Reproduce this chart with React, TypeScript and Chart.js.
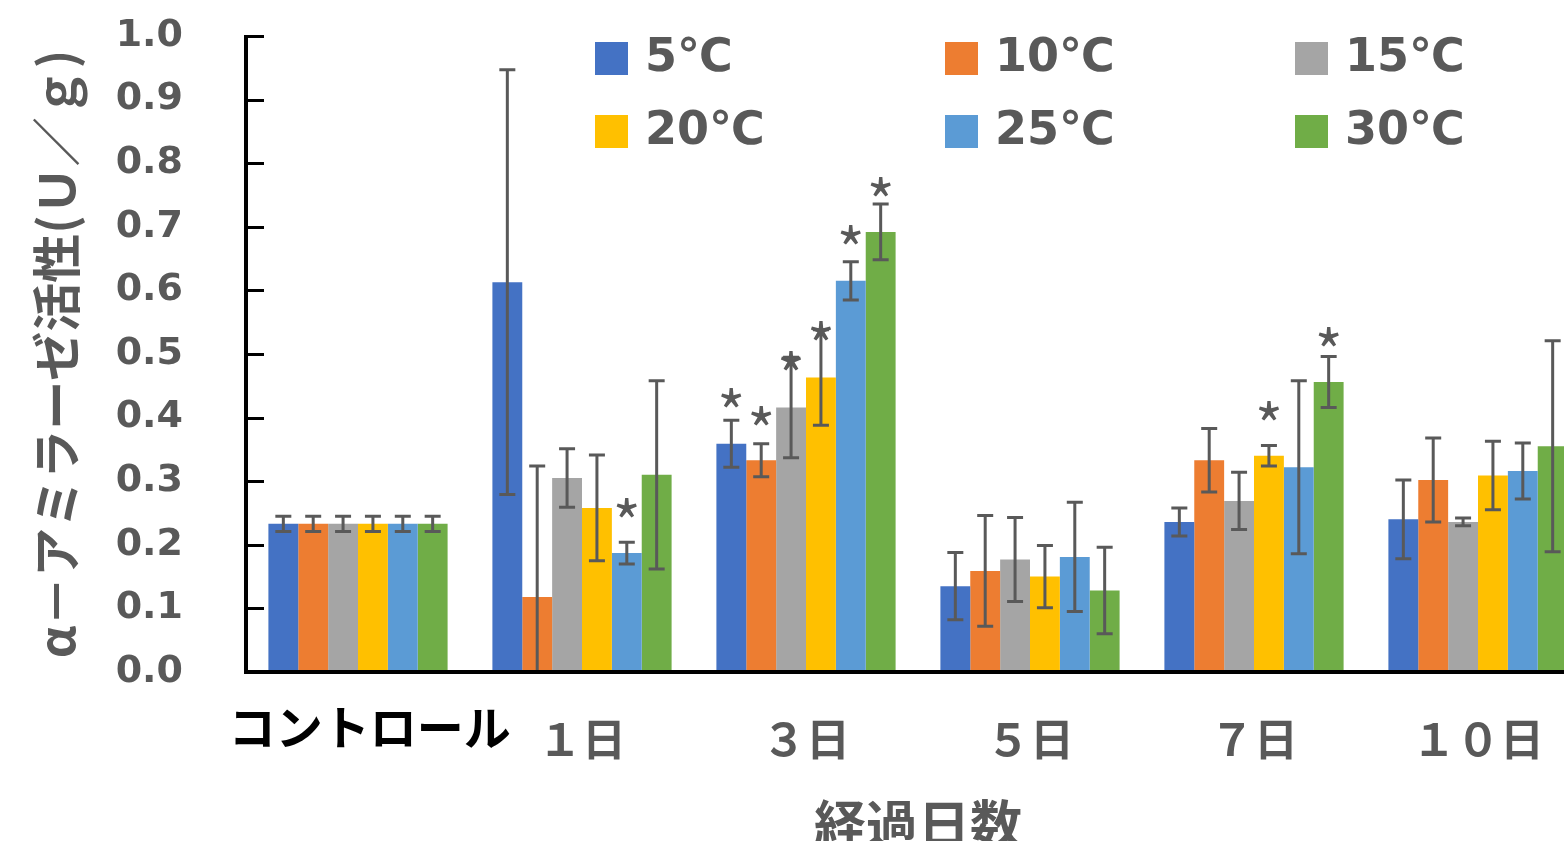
import React, { useEffect, useRef } from "react";
import { Chart, registerables } from "chart.js";

Chart.register(...registerables);

const categories = ["コントロール", "１日", "３日", "５日", "７日", "１０日"];
const seriesNames = ["5℃", "10℃", "15℃", "20℃", "25℃", "30℃"];
const seriesColors = ["#4472C4", "#ED7D31", "#A5A5A5", "#FFC000", "#5B9BD5", "#70AD47"];

const v5 = [0.233, 0.613, 0.359, 0.135, 0.236, 0.240];
const v10 = [0.233, 0.118, 0.333, 0.159, 0.333, 0.302];
const v15 = [0.233, 0.305, 0.416, 0.177, 0.269, 0.236];
const v20 = [0.233, 0.258, 0.463, 0.150, 0.340, 0.309];
const v25 = [0.233, 0.187, 0.615, 0.181, 0.322, 0.316];
const v30 = [0.233, 0.310, 0.692, 0.128, 0.456, 0.355];

const e5 = [0.012, 0.334, 0.037, 0.053, 0.022, 0.062];
const e10 = [0.012, 0.206, 0.026, 0.087, 0.050, 0.066];
const e15 = [0.012, 0.046, 0.079, 0.066, 0.045, 0.006];
const e20 = [0.012, 0.083, 0.075, 0.049, 0.016, 0.054];
const e25 = [0.012, 0.017, 0.030, 0.086, 0.136, 0.044];
const e30 = [0.012, 0.148, 0.044, 0.068, 0.040, 0.166];

// significance marks: value level at which "*" is shown (null = none)
const s5 = [null, null, 0.431, null, null, null];
const s10 = [null, null, 0.403, null, null, null];
const s15 = [null, null, 0.489, null, null, null];
const s20 = [null, null, 0.536, null, 0.410, null];
const s25 = [null, 0.258, 0.687, null, null, null];
const s30 = [null, null, 0.763, null, 0.527, null];

const values = [v5, v10, v15, v20, v25, v30];
const errors = [e5, e10, e15, e20, e25, e30];
const stars = [s5, s10, s15, s20, s25, s30];

const yTicks = [0, 0.1, 0.2, 0.3, 0.4, 0.5, 0.6, 0.7, 0.8, 0.9, 1.0];

const GRAY = "#595959";
const JP = "'Noto Sans CJK JP', 'Noto Sans', sans-serif";
const LAT = "'DejaVu Sans', 'Noto Sans CJK JP', sans-serif";

const decorPlugin = {
  id: "decor",
  afterDatasetsDraw(chart: any) {
    const ctx = chart.ctx;
    const y = chart.scales.y;
    const area = chart.chartArea;
    ctx.save();
    // error bars
    ctx.strokeStyle = GRAY;
    ctx.lineWidth = 3;
    chart.data.datasets.forEach((ds: any, i: number) => {
      const meta = chart.getDatasetMeta(i);
      meta.data.forEach((bar: any, j: number) => {
        const v = values[i][j];
        const e = errors[i][j];
        const x = bar.x;
        let yt = y.getPixelForValue(v + e);
        let yb = y.getPixelForValue(v - e);
        const capT = yt >= area.top && yt <= area.bottom;
        const capB = yb >= area.top && yb <= area.bottom;
        yt = Math.max(area.top, Math.min(area.bottom, yt));
        yb = Math.max(area.top, Math.min(area.bottom, yb));
        ctx.beginPath();
        ctx.moveTo(x, yt);
        ctx.lineTo(x, yb);
        if (capT) {
          ctx.moveTo(x - 8, yt);
          ctx.lineTo(x + 8, yt);
        }
        if (capB) {
          ctx.moveTo(x - 8, yb);
          ctx.lineTo(x + 8, yb);
        }
        ctx.stroke();
      });
    });
    // significance stars
    ctx.fillStyle = GRAY;
    ctx.font = "60px " + JP;
    ctx.textAlign = "center";
    ctx.textBaseline = "alphabetic";
    const m = ctx.measureText("*");
    const shift = (m.actualBoundingBoxAscent - m.actualBoundingBoxDescent) / 2;
    chart.data.datasets.forEach((ds: any, i: number) => {
      const meta = chart.getDatasetMeta(i);
      meta.data.forEach((bar: any, j: number) => {
        const s = stars[i][j];
        if (s === null || s === undefined) return;
        ctx.fillText("*", bar.x, y.getPixelForValue(s) + shift);
      });
    });
    // axes lines
    ctx.strokeStyle = "#000";
    ctx.lineWidth = 4;
    ctx.beginPath();
    ctx.moveTo(area.left, area.top - 1);
    ctx.lineTo(area.left, area.bottom + 2);
    ctx.stroke();
    ctx.beginPath();
    ctx.moveTo(area.left - 2, area.bottom);
    ctx.lineTo(area.right + 20, area.bottom);
    ctx.stroke();
    // inward tick marks
    ctx.lineWidth = 3;
    yTicks.forEach((t) => {
      const py = Math.round(y.getPixelForValue(t)) + 0.5;
      ctx.beginPath();
      ctx.moveTo(area.left, py);
      ctx.lineTo(area.left + 18, py);
      ctx.stroke();
    });
    ctx.restore();
  },
  afterDraw(chart: any) {
    const ctx = chart.ctx;
    ctx.save();
    ctx.textBaseline = "middle";
    ctx.textAlign = "left";
    ctx.font = "bold 46px " + LAT;
    chart.data.datasets.forEach((ds: any, i: number) => {
      const col = i % 3;
      const row = Math.floor(i / 3);
      const sx = 595 + col * 350;
      const cy = 58 + row * 73;
      ctx.fillStyle = ds.backgroundColor;
      ctx.fillRect(sx, cy - 16, 33, 33);
      ctx.fillStyle = GRAY;
      ctx.fillText(ds.label, sx + 50, cy + 1);
    });
    ctx.restore();
  },
};

export default function App() {
  const ref = useRef<HTMLCanvasElement>(null);

  useEffect(() => {
    if (!ref.current) return;
    const chart = new Chart(ref.current, {
      type: "bar",
      data: {
        labels: categories,
        datasets: seriesNames.map((name, i) => ({
          label: name,
          data: values[i],
          backgroundColor: seriesColors[i],
          borderWidth: 0,
          categoryPercentage: 0.8,
          barPercentage: 1.0,
        })),
      },
      options: {
        responsive: false,
        animation: false,
        devicePixelRatio: 1,
        layout: { padding: { left: 0, right: 10, top: 36, bottom: 0 } },
        plugins: {
          legend: { display: false },
          tooltip: { enabled: false },
        },
        scales: {
          x: {
            grid: { display: false, drawTicks: false, tickLength: 0 },
            border: { display: false },
            ticks: {
              autoSkip: false,
              maxRotation: 0,
              minRotation: 0,
              padding: 41,
              callback: (v: any, i: number) => (i === 0 ? "\u2002" + categories[i] : categories[i]),
              color: (c: any) => (c.index === 0 ? "#000000" : GRAY),
              font: (c: any) =>
                c.index === 0
                  ? { family: JP, size: 47, weight: "bold", lineHeight: 0.6 }
                  : { family: JP, size: 44, weight: "bold", lineHeight: 1.2 },
            },
            title: {
              display: true,
              text: "経過日数",
              color: GRAY,
              font: { family: JP, size: 52, weight: "bold", lineHeight: 1 },
              padding: { top: 0, bottom: 10 },
            },
            afterFit: (s: any) => {
              s.height = 188;
              s.paddingTop = 0;
              s.paddingBottom = 0;
            },
          },
          y: {
            min: 0,
            max: 1,
            grid: { display: false, drawTicks: false, tickLength: 0 },
            border: { display: false },
            ticks: {
              stepSize: 0.1,
              padding: 63,
              color: GRAY,
              font: { family: LAT, size: 38, weight: "bold" },
              callback: (v: any) => Number(v).toFixed(1),
            },
            title: {
              display: true,
              text: "α－アミラーゼ活性(Ｕ／ｇ)",
              color: GRAY,
              font: { family: JP, size: 49, weight: "bold", lineHeight: 1 },
              padding: { top: 32, bottom: 0 },
            },
            afterFit: (s: any) => {
              s.width = 246;
              s.paddingTop = 0;
              s.paddingBottom = 0;
            },
          },
        },
      },
      plugins: [decorPlugin],
    });
    return () => chart.destroy();
  }, []);

  return (
    <div
      style={{
        position: "fixed",
        left: 0,
        top: 0,
        width: 1564,
        height: 841,
        overflow: "hidden",
        background: "#fff",
      }}
    >
      <canvas ref={ref} width={1600} height={860} style={{ display: "block" }} />
    </div>
  );
}
